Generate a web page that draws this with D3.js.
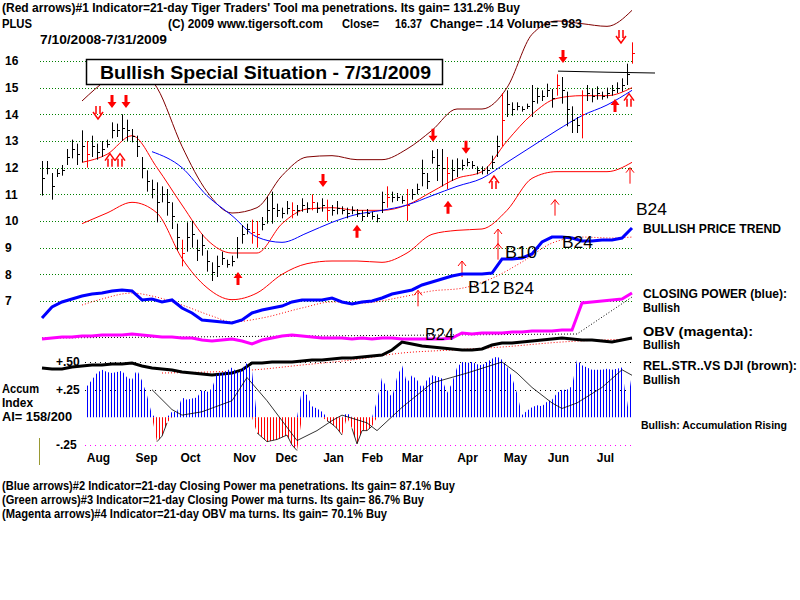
<!DOCTYPE html>
<html>
<head>
<meta charset="utf-8">
<script src="https://cdn.jsdelivr.net/npm/d3@7"></script>
<style>
body { margin: 0; background: #fff; }
text { font-family: "Liberation Sans", Arial, sans-serif; }
</style>
</head>
<body>
<div id="wrapper"></div>
<script>
/* price bars, one every 5px (7/10/2008 - 7/31/2009) */
const closes = [11.6,12.0,11.3,11.8,11.9,12.4,12.7,12.5,12.8,12.5, 12.8,12.6,12.7,12.9,13.4,13.4,13.5,13.4,13.2,12.8,
  12.0,11.5,11.2,10.7,11.0,10.7,10.2,9.4,8.8,9.4, 9.5,8.9,9.1,8.5,8.1,8.3,8.6,8.4,8.5,9.0,
  9.5,9.7,9.6,9.5,9.9,10.4,10.5,10.4,10.3,10.5, 10.4,10.4,10.6,10.5,10.7,10.5,10.6,10.4,10.4,10.5,
  10.4,10.3,10.4,10.3,10.2,10.3,10.2,10.1,10.7,10.9, 10.9,10.9,10.8,10.6,11.0,11.2,11.8,11.5,12.4,12.1,
  12.0,11.8,11.9,12.0,12.1,12.2,12.1,11.9,11.9,11.9, 12.2,12.8,13.8,14.4,14.2,14.3,14.2,14.3,14.5,14.7,
  14.7,14.9,14.6,15.1,14.9,14.2,13.8,13.6,14.0,14.8, 14.7,14.8,14.7,14.8,14.9,15.0,15.1,15.5,16.3];
const ranges = [1.3,0.5,1.0,0.3,0.4,0.6,0.7,0.8,1.2,1.0, 0.8,0.6,0.6,0.3,0.6,0.5,1.0,0.8,0.5,0.8,
  0.8,0.8,0.7,1.5,0.6,1.0,1.0,1.0,1.0,1.1, 1.0,0.8,0.8,0.8,0.7,0.8,0.5,0.3,0.4,0.8,
  0.7,0.4,0.9,1.0,0.5,1.0,1.2,0.5,0.4,0.5, 0.6,0.4,0.5,0.4,0.6,0.4,0.5,0.8,0.4,0.5,
  0.3,0.4,0.3,0.3,0.4,0.3,0.3,0.3,0.8,0.8, 0.4,0.3,0.3,1.2,0.4,0.4,1.0,0.6,0.5,1.2,
  1.4,1.2,0.8,0.7,0.4,0.3,0.3,0.3,0.3,0.3, 0.5,0.8,2.0,1.0,0.5,0.3,0.2,0.2,1.2,0.6,
  0.4,0.5,0.7,0.8,1.0,1.3,1.0,0.6,1.8,0.6, 0.5,0.5,0.3,0.4,0.4,0.4,0.5,0.8,0.8];
const redBars = [9,28,42,43,50,54,57,69,73,81,92,103,108,118];

/* bands and averages, read at these bar positions */
const bandIdx = [8,13,18,23,28,33,38,43,48,53,58,63,68,73,78,83,88,93,98,103,108,113,118];
const upperBand = [14.5,15.3,15.8,15.0,12.8,11.1,10.3,10.5,11.7,12.4,12.45,12.3,12.3,12.7,13.4,14.2,14.2,15.0,17.0,17.5,17.4,17.3,17.9];
const lowerBand = [9.9,10.3,10.7,10.3,8.6,7.5,7.05,7.3,8.0,8.4,8.5,8.5,8.45,8.8,9.5,9.65,9.7,10.4,11.6,11.85,11.85,11.85,12.2];
const ma21 = [12.2,12.5,13.2,12.0,10.6,9.3,8.8,8.8,9.9,10.45,10.5,10.4,10.4,10.6,11.1,11.6,11.85,13.0,14.0,14.6,14.7,14.7,15.0];
const ma50Idx = [22,28,33,38,43,48,53,58,63,68,73,78,83,88,93,98,103,108,113,118];
const ma50 = [12.6,12.0,10.95,10.2,9.4,9.2,9.55,9.95,10.25,10.4,10.6,10.95,11.3,11.6,12.2,12.8,13.4,13.95,14.35,14.9];
const resIdx = [103.2,113,122.6];
const resVal = [15.62,15.58,15.55];

/* signal arrows: bar position, price */
const downSolidIdx = [14,16.8,56.2,78.2,84.8,104.2], downSolidVal = [14.46,14.46,11.5,13.2,12.75,16.15];
const downHollowIdx = [11.2,115.8], downHollowVal = [14.05,16.9];
const upSolidIdx = [39.2,63,81.2,114.6], upSolidVal = [7.86,9.63,10.53,14.35];
const upHollowIdx = [13.6,15.6,90.4,117.4], upHollowVal = [12.3,12.3,11.46,14.55];
const upThinIdx = [75.2,84,91.2,91.2,102.6,117.6], upThinVal = [7.1,8.2,9.4,8.85,10.5,11.7];

/* indicators sampled every 2 bars */
const step = 2;
const closingPower = [10.9,20.9,25.5,28.2,30.9,32.7,33.6,35.5,36.4,35.5, 27.3,28.2,25.5,27.3,20,15.5,9.1,8.2,7.3,6.4,
  9.1,15.5,18.2,20,21.8,25.5,27.3,27.3,27.3,29.1, 25.5,23.6,25.5,26.4,29.1,32.7,34.5,36.4,40.9,43.6,
  46.4,49.1,50.9,50.9,50.9,51.8,64.5,64.5,65.5,69.1, 80,84.5,84.5,83.6,80.9,80.9,81.8,81.8,83.6,92.7];
const cpMaIdx = [8,12,18,22,28,34,38,44,52,58,64,72,78,84,90,96,102,108,114,118];
const cpMa = [22.7,28.2,33.6,30.9,22.7,12.7,7.3,10.9,20,25.5,24.5,30,35.5,38,47,61.8,79,84.5,83.6,84.5];
const obv = [11,12,13,13,14,14,15,15,15,16, 15,14,13,13,12,12,10,9,10,11,
  9,6,10,12,14,15,14,13,12,12, 12,11,12,11,12,12,11,11,11,11,
  11,12,17,16,17,17,17,18,18,19, 19,19,20,20,47,48,49,50,51,57];
const obvMaIdx = [0,107,118], obvMa = [12,16,53];
const relStr = [12,11,11,13,14,15,15,16,16,17, 14,12,11,10,8,7,6,5,6,7,
  10,17,17,18,18,18,19,20,20,21, 22,22,23,24,25,30,38,36,34,33,
  32,31,30,30,31,35,37,37,38,39, 40,41,42,41,40,40,39,38,40,42];
const rsMaIdx = [24,42,52,62,72,82,92,104,118], rsMa = [7,10,15,20,27,30,33,38,41];

/* accumulation index from bar 9 */
const aiStart = 9;
const accum = [.28,.34,.40,.43,.41,.40,.41,.42,.36,.34, .43,.33,.20,.02,-.22,-.17,-.05,.05,.05,.18,
  .16,.17,.18,.25,.23,.26,.40,.40,.42,.45, .41,.44,.49,.42,-.14,-.18,-.22,-.21,-.20,-.18,
  -.16,-.25,-.30,.25,.20,.10,.08,.05,-.03,-.06, -.10,-.16,.04,-.10,-.24,-.12,-.12,-.08,.15,.36,
  .25,.18,.36,.47,.31,.38,.34,.26,.34,.38, .37,.35,.22,.31,.45,.50,.49,.50,.48,.47,
  .50,.53,.55,.52,.46,.36,.22,.02,.06,.09, .11,.10,.14,.16,.22,.25,.25,.28,.52,.47,
  .45,.43,.43,.43,.44,.43,.44,.45,.09,.40];
const aiMaIdx = [22,26,28,32,38,41,45,48,51,55,58,60,65,67,72,78,85,92,95,98,102,104,107,112,116,118];
const aiMa = [.25,.07,.02,.05,.15,.36,.15,-.03,-.21,-.12,-.03,.02,-.05,-.12,.09,.31,.40,.50,.40,.27,.13,.08,.13,.27,.43,.38];

const priceTicks = [7,8,9,10,11,12,13,14,15,16];
const aiTicks = [0.5,0.25,-0.25], aiTickLabels = ["+.50","+.25","-.25"];
const monthNames = ["Aug","Sep","Oct","Nov","Dec","Jan","Feb","Mar","Apr","May","Jun","Jul"];
const monthPos = [11.2,20.8,29.6,40.4,48.8,58.2,66,74,85,94.6,103.2,112.6];

/* canvas */
const svg = d3.select("#wrapper").append("svg")
  .attr("width", 800).attr("height", 600)
  .style("background", "#fff");

const defs = svg.append("defs");
[["bluePat","#0000ff"],["redPat","#ff0000"]].forEach(([id,c]) => {
  defs.append("pattern").attr("id", id).attr("patternUnits","userSpaceOnUse")
    .attr("width", 3).attr("height", 10)
    .append("rect").attr("width", 1).attr("height", 10).attr("fill", c);
});

/* scales */
const x = d3.scaleLinear().domain([0, 118]).range([42, 632]);
const y = d3.scaleLinear().domain([7, 16]).range([301, 61]);
const cpY = d3.scaleLinear().domain([0, 100]).range([330, 220]);
const obvY = d3.scaleLinear().domain([0, 60]).range([350, 290]);
const rsY = d3.scaleLinear().domain([0, 50]).range([380, 330]);
const aiY = d3.scaleLinear().domain([-0.25, 0.5]).range([445, 362]);

/* grid */
svg.append("g").selectAll("line").data(priceTicks).join("line")
  .attr("x1", 40).attr("x2", 634)
  .attr("y1", d => Math.round(y(d)) + 0.5).attr("y2", d => Math.round(y(d)) + 0.5)
  .attr("stroke", "#008000").attr("stroke-dasharray", "1,2");

const priceAxis = svg.append("g").attr("transform", "translate(5,0)")
  .call(d3.axisLeft(y).tickValues(priceTicks).tickSize(0).tickFormat(d3.format("d")));
priceAxis.select(".domain").remove();
priceAxis.selectAll("text").attr("x", 0).attr("text-anchor", "start")
  .style("font-size", "12px").style("font-weight", "bold").attr("fill", "#000");

/* bands and moving averages */
function bandLine(idx, vals, scale) {
  return d3.line().x((d, k) => x(idx[k])).y(d => scale(d)).curve(d3.curveMonotoneX)(vals);
}
svg.append("path").attr("d", bandLine(bandIdx, upperBand, y)).attr("fill","none").attr("stroke","#800000");
svg.append("path").attr("d", bandLine(bandIdx, lowerBand, y)).attr("fill","none").attr("stroke","#ff0000");
svg.append("path").attr("d", bandLine(bandIdx, ma21, y)).attr("fill","none").attr("stroke","#ff0000");
svg.append("path").attr("d", bandLine(ma50Idx, ma50, y)).attr("fill","none").attr("stroke","#0000ff");
svg.append("path").attr("d", bandLine(resIdx, resVal, y)).attr("fill","none").attr("stroke","#000");

/* price bars */
const bars = svg.append("g").selectAll("g").data(closes).join("g")
  .attr("stroke", (d, i) => redBars.includes(i) ? "#ff0000" : "#000");
bars.append("line")
  .attr("x1", (d, i) => Math.round(x(i)) + 0.5).attr("x2", (d, i) => Math.round(x(i)) + 0.5)
  .attr("y1", (d, i) => y(d + ranges[i] / 2)).attr("y2", (d, i) => y(d - ranges[i] / 2));
bars.append("line")
  .attr("x1", (d, i) => Math.round(x(i))).attr("x2", (d, i) => Math.round(x(i)) + 3)
  .attr("y1", d => Math.round(y(d)) + 0.5).attr("y2", d => Math.round(y(d)) + 0.5);

/* arrows */
const arrows = svg.append("g");
downSolidIdx.forEach((p, k) => {
  const cx = x(p), cy = y(downSolidVal[k]);
  arrows.append("path").attr("fill", "#ff0000")
    .attr("d", `M${cx-1.5},${cy-7}h3v7h3l-4.5,6l-4.5,-6h3z`);
});
upSolidIdx.forEach((p, k) => {
  const cx = x(p), cy = y(upSolidVal[k]);
  arrows.append("path").attr("fill", "#ff0000")
    .attr("d", `M${cx-1.5},${cy+7}h3v-7h3l-4.5,-6l-4.5,6h3z`);
});
downHollowIdx.forEach((p, k) => {
  const cx = x(p), cy = y(downHollowVal[k]);
  arrows.append("path").attr("fill", "none").attr("stroke", "#ff0000").attr("stroke-width", 1.5)
    .attr("d", `M${cx-2},${cy-7}V${cy+1}M${cx+2},${cy-7}V${cy+1}M${cx-5},${cy-1}L${cx},${cy+6}L${cx+5},${cy-1}`);
});
upHollowIdx.forEach((p, k) => {
  const cx = x(p), cy = y(upHollowVal[k]);
  arrows.append("path").attr("fill", "none").attr("stroke", "#ff0000").attr("stroke-width", 1.5)
    .attr("d", `M${cx-2},${cy+7}V${cy-1}M${cx+2},${cy+7}V${cy-1}M${cx-5},${cy+1}L${cx},${cy-6}L${cx+5},${cy+1}`);
});
upThinIdx.forEach((p, k) => {
  const cx = x(p), cy = y(upThinVal[k]);
  arrows.append("path").attr("fill", "none").attr("stroke", "#ff0000")
    .attr("d", `M${cx},${cy+8}V${cy-8}M${cx-4},${cy-3}L${cx},${cy-8}L${cx+4},${cy-3}`);
});

/* closing power, OBV, relative strength */
const sampled = scale => d3.line().x((d, k) => x(k * step)).y(d => scale(d));
svg.append("path").attr("d", bandLine(cpMaIdx, cpMa, cpY)).attr("fill","none")
  .attr("stroke","#ff0000").attr("stroke-dasharray","1,2");
svg.append("path").attr("d", sampled(cpY)(closingPower)).attr("fill","none")
  .attr("stroke","#0000ff").attr("stroke-width",3);
svg.append("path").attr("d", d3.line().x((d,k) => x(obvMaIdx[k])).y(d => obvY(d))(obvMa)).attr("fill","none")
  .attr("stroke","#000").attr("stroke-dasharray","1,2");
svg.append("path").attr("d", sampled(obvY)(obv)).attr("fill","none")
  .attr("stroke","#ff00ff").attr("stroke-width",3);
svg.append("path").attr("d", bandLine(rsMaIdx, rsMa, rsY)).attr("fill","none")
  .attr("stroke","#ff0000").attr("stroke-dasharray","1,2");
svg.append("path").attr("d", sampled(rsY)(relStr)).attr("fill","none")
  .attr("stroke","#000").attr("stroke-width",3);

/* accumulation index */
svg.append("g").selectAll("line").data(aiTicks).join("line")
  .attr("x1", 85).attr("x2", 634)
  .attr("y1", d => Math.round(aiY(d)) + 0.5).attr("y2", d => Math.round(aiY(d)) + 0.5)
  .attr("stroke", (d, i) => i === 2 ? "#ff00ff" : "#000").attr("stroke-dasharray", "1,4");
const aiArea = d3.area().x((d, k) => x(aiStart + k)).y0(aiY(0));
svg.append("path").attr("fill", "url(#bluePat)")
  .attr("d", aiArea.y1(d => aiY(Math.max(d, 0)))(accum));
svg.append("path").attr("fill", "url(#redPat)")
  .attr("d", aiArea.y1(d => aiY(Math.min(d, 0)))(accum));
svg.append("path").attr("fill", "none").attr("stroke", "#000").attr("stroke-width", 0.8)
  .attr("d", d3.line().defined(d => d < 0.02).x((d, k) => x(aiStart + k)).y(d => aiY(d))(accum));
svg.append("path").attr("d", d3.line().x((d,k) => x(aiMaIdx[k])).y(d => aiY(d))(aiMa))
  .attr("fill","none").attr("stroke","#000").attr("stroke-width",0.8);

svg.append("g").selectAll("text").data(aiTicks).join("text")
  .attr("x", 56).attr("y", d => aiY(d) + 4)
  .style("font-size", "12px").style("font-weight", "bold")
  .text((d, i) => aiTickLabels[i]);

/* month axis */
const monthAxis = svg.append("g").attr("transform", "translate(0,450)")
  .call(d3.axisBottom(x).tickValues(monthPos).tickSize(0).tickFormat((d, i) => monthNames[i]));
monthAxis.select(".domain").remove();
monthAxis.selectAll("text").attr("fill", "#000")
  .style("font-size", "12px").style("font-weight", "bold");

svg.append("line").attr("x1", 39.5).attr("x2", 39.5).attr("y1", 438).attr("y2", 465)
  .attr("stroke", "#999933");

/* title box */
svg.append("rect").attr("x", 86.5).attr("y", 59.5).attr("width", 356).attr("height", 25)
  .attr("fill", "#fff").attr("stroke", "#000").attr("stroke-width", 1.5);
svg.append("text").attr("x", 100).attr("y", 79).attr("textLength", 331).attr("lengthAdjust", "spacingAndGlyphs")
  .style("font-size", "19px").style("font-weight", "bold")
  .text("Bullish Special Situation - 7/31/2009");

/* text */
function label(tx, ty, str, size, len, weight) {
  const t = svg.append("text").attr("x", tx).attr("y", ty)
    .style("font-size", size + "px").style("font-weight", weight || "bold").text(str);
  if (len) t.attr("textLength", len).attr("lengthAdjust", "spacingAndGlyphs");
  return t;
}
label(2, 12, "(Red arrows)#1 Indicator=21-day Tiger Traders' Tool ma penetrations. Its gain= 131.2% Buy", 12, 518);
label(2, 28, "PLUS", 12, 30);
label(168, 28, "(C) 2009 www.tigersoft.com", 12, 155);
label(342, 28, "Close=", 12, 37);
label(395, 28, "16.37", 12, 27);
label(430, 28, "Change= .14 Volume= 983", 12, 152);
label(40, 44, "7/10/2008-7/31/2009", 12, 127);

label(2, 490, "(Blue arrows)#2 Indicator=21-day Closing Power ma penetrations. Its gain= 87.1% Buy", 12, 453);
label(2, 504, "(Green arrows)#3 Indicator=21-day Closing Power ma turns. Its gain= 86.7% Buy", 12, 422);
label(2, 518, "(Magenta arrows)#4 Indicator=21-day OBV ma turns. Its gain= 70.1% Buy", 12, 385);

label(2, 393, "Accum", 12, 37);
label(2, 407, "Index", 12, 31);
label(2, 421, "AI= 158/200", 12, 70);

label(643, 233, "BULLISH PRICE TREND", 12, 138);
label(643, 298, "CLOSING POWER (blue):", 12, 144);
label(643, 312, "Bullish", 12, 37);
label(643, 336, "OBV (magenta):", 12, 110);
label(643, 349, "Bullish", 12, 37);
label(643, 370, "REL.STR..VS DJI (brown):", 12, 154);
label(643, 384, "Bullish", 12, 37);
label(641, 429, "Bullish: Accumulation Rising", 11.5, 146);

label(636, 215, "B24", 17, 31, "normal");
label(562, 248, "B24", 17, 31, "normal");
label(505, 258, "B10", 17, 32, "normal");
label(468, 293, "B12", 17, 32, "normal");
label(503, 294, "B24", 17, 31, "normal");
label(425, 340, "B24", 17, 29, "normal");
</script>
</body>
</html>
